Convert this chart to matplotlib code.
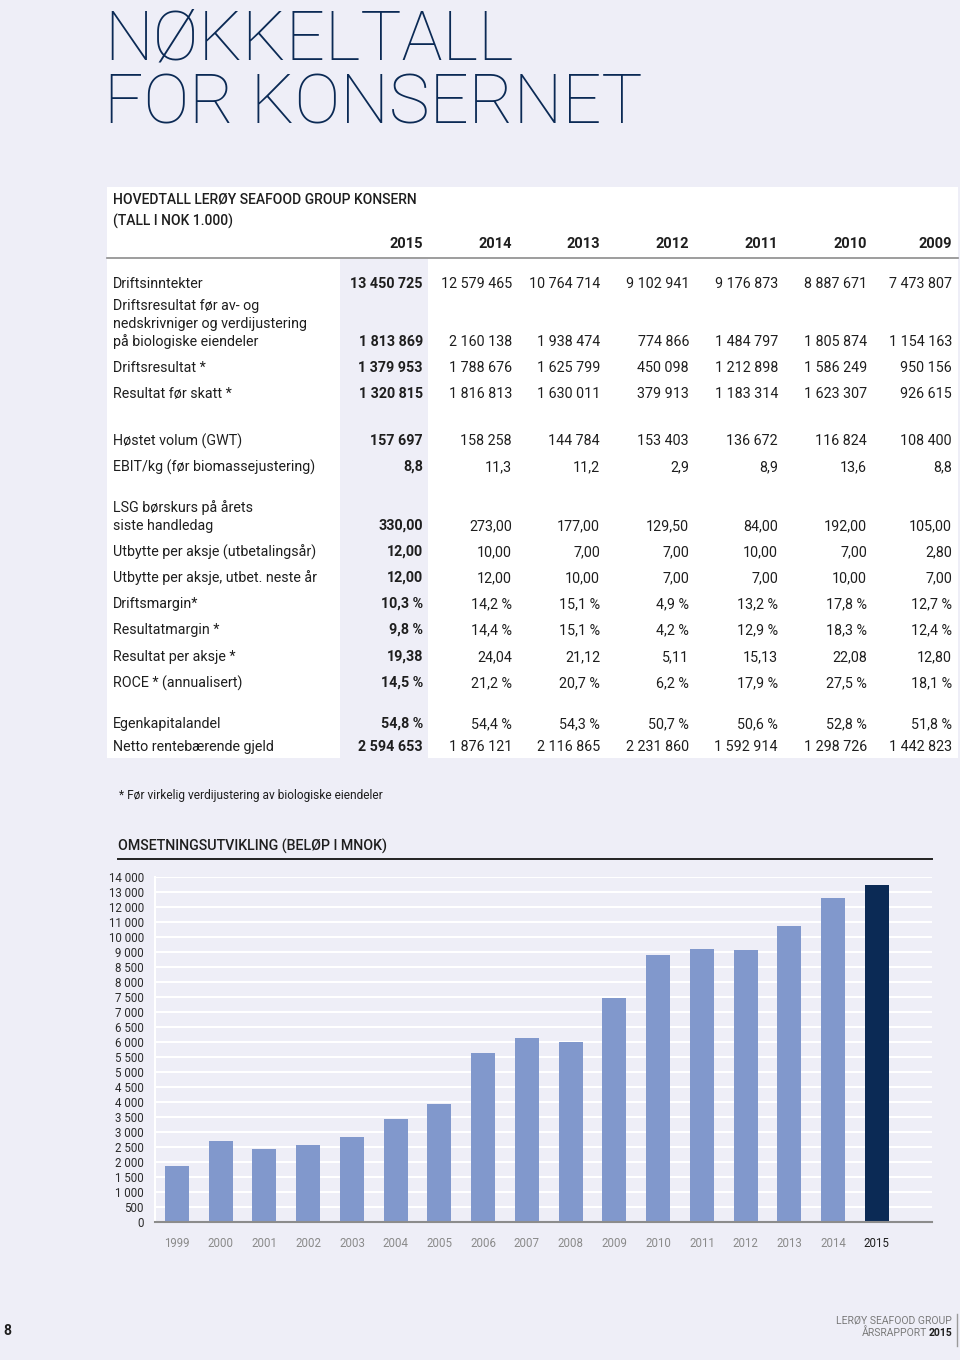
import matplotlib
matplotlib.use("Agg")
import matplotlib.pyplot as plt
import numpy as np

# Farger og fonter
BG = "#EEEEF7"
NAVY = "#0B2A55"
BAR = "#8198CC"
TXT = "#1E1E1E"
FONT = ["Roboto", "DejaVu Sans"]
plt.rcParams["font.family"] = FONT

# Tabelldata (tall i NOK 1.000)
years = ["2015", "2014", "2013", "2012", "2011", "2010", "2009"]
driftsinntekter = ["13 450 725", "12 579 465", "10 764 714", "9 102 941", "9 176 873", "8 887 671", "7 473 807"]
ebitda = ["1 813 869", "2 160 138", "1 938 474", "774 866", "1 484 797", "1 805 874", "1 154 163"]
driftsresultat = ["1 379 953", "1 788 676", "1 625 799", "450 098", "1 212 898", "1 586 249", "950 156"]
resultat_for_skatt = ["1 320 815", "1 816 813", "1 630 011", "379 913", "1 183 314", "1 623 307", "926 615"]
hostet_volum = ["157 697", "158 258", "144 784", "153 403", "136 672", "116 824", "108 400"]
ebit_kg = ["8,8", "11,3", "11,2", "2,9", "8,9", "13,6", "8,8"]
borskurs = ["330,00", "273,00", "177,00", "129,50", "84,00", "192,00", "105,00"]
utbytte_utbet = ["12,00", "10,00", "7,00", "7,00", "10,00", "7,00", "2,80"]
utbytte_neste = ["12,00", "12,00", "10,00", "7,00", "7,00", "10,00", "7,00"]
driftsmargin = ["10,3 %", "14,2 %", "15,1 %", "4,9 %", "13,2 %", "17,8 %", "12,7 %"]
resultatmargin = ["9,8 %", "14,4 %", "15,1 %", "4,2 %", "12,9 %", "18,3 %", "12,4 %"]
resultat_per_aksje = ["19,38", "24,04", "21,12", "5,11", "15,13", "22,08", "12,80"]
roce = ["14,5 %", "21,2 %", "20,7 %", "6,2 %", "17,9 %", "27,5 %", "18,1 %"]
egenkapitalandel = ["54,8 %", "54,4 %", "54,3 %", "50,7 %", "50,6 %", "52,8 %", "51,8 %"]
netto_gjeld = ["2 594 653", "1 876 121", "2 116 865", "2 231 860", "1 592 914", "1 298 726", "1 442 823"]

# Omsetning (MNOK)
rev_years = [str(y) for y in range(1999, 2016)]
revenue = [1860, 2690, 2450, 2580, 2820, 3450, 3950, 5620, 6150, 5990,
           7474, 8888, 9177, 9103, 10765, 12579, 13451]
ytick_values = list(range(0, 9001, 500)) + [10000, 11000, 12000, 13000, 14000]

# (etikett-linjer, verdier, y-posisjon for siste linje)
rows = [
    (["Driftsinntekter"], driftsinntekter, 284),
    (["Driftsresultat før av- og", "nedskrivniger og verdijustering", "på biologiske eiendeler"], ebitda, 342),
    (["Driftsresultat *"], driftsresultat, 368),
    (["Resultat før skatt *"], resultat_for_skatt, 394),
    (["Høstet volum (GWT)"], hostet_volum, 441),
    (["EBIT/kg (før biomassejustering)"], ebit_kg, 467),
    (["LSG børskurs på årets", "siste handledag"], borskurs, 526),
    (["Utbytte per aksje (utbetalingsår)"], utbytte_utbet, 552),
    (["Utbytte per aksje, utbet. neste år"], utbytte_neste, 578),
    (["Driftsmargin*"], driftsmargin, 604),
    (["Resultatmargin *"], resultatmargin, 630),
    (["Resultat per aksje *"], resultat_per_aksje, 657),
    (["ROCE * (annualisert)"], roce, 683),
    (["Egenkapitalandel"], egenkapitalandel, 724),
    (["Netto rentebærende gjeld"], netto_gjeld, 747),
]
col_right = [423, 512, 600, 689, 778, 867, 952]

fig = plt.figure(figsize=(9.6, 13.6), dpi=100, facecolor=BG)

# Side-akse i pikselkoordinater
page = fig.add_axes([0, 0, 1, 1])
page.set_xlim(0, 960)
page.set_ylim(1360, 0)
page.axis("off")
page.set_facecolor(BG)

# Tittel (to linjer i én tekst, grunnlinje for siste linje)
page.text(104, 124, "NØKKELTALL\nFOR KONSERNET", fontsize=49.5, fontweight="light", color=NAVY,
          va="baseline", ha="left", linespacing=0.99)

# Hvit tabellflate og uthevet 2015-kolonne
page.add_patch(plt.Rectangle((107, 187), 851, 571, facecolor="white", edgecolor="none"))
page.add_patch(plt.Rectangle((340, 259), 88, 499, facecolor=BG, edgecolor="none"))

page.text(113, 200, "HOVEDTALL LERØY SEAFOOD GROUP KONSERN", fontsize=10, fontweight="medium",
          color=TXT, va="center")
page.text(113, 221, "(TALL I NOK 1.000)", fontsize=10, fontweight="medium", color=TXT, va="center")
for yr, xr in zip(years, col_right):
    page.text(xr, 244, yr, fontsize=10.5, fontweight="bold", color=TXT, ha="right", va="center")
page.plot([107, 958], [258, 258], color="#8C8C8C", lw=1.2)

for labels, vals, y in rows:
    n = len(labels)
    for i, lab in enumerate(labels):
        page.text(113, y - (n - 1 - i) * 18, lab, fontsize=10.3, color=TXT, va="center")
    for j, (v, xr) in enumerate(zip(vals, col_right)):
        page.text(xr, y, v, fontsize=10.3, color=TXT, ha="right", va="center",
                  fontweight="bold" if j == 0 else "normal")

page.text(119, 795, "* Før virkelig verdijustering av biologiske eiendeler", fontsize=8.6,
          color=TXT, va="center")

page.text(118, 846, "OMSETNINGSUTVIKLING (BELØP I MNOK)", fontsize=10.3, fontweight="medium",
          color=TXT, va="center")
page.plot([118, 932], [859, 859], color="#222222", lw=1.4)

# Bunntekst
page.text(3, 1331, "8", fontsize=10, fontweight="bold", color=TXT, va="center")
page.text(952, 1321, "LERØY SEAFOOD GROUP", fontsize=7.5, color="#7A7A7A", ha="right", va="center")
page.text(927, 1333, "ÅRSRAPPORT", fontsize=7.5, color="#7A7A7A", ha="right", va="center")
page.text(952, 1333, "2015", fontsize=7.5, color=TXT, fontweight="bold", ha="right", va="center")
page.plot([957, 957], [1314, 1346], color="#9A9A9A", lw=1)


# Stolpediagram med brutt skala (500-trinn opp til 9 000, deretter 1 000)
def fwd(v):
    v = np.asarray(v, dtype=float)
    return np.where(v <= 9000, v / 500.0, 18 + (v - 9000) / 1000.0)


def inv(u):
    u = np.asarray(u, dtype=float)
    return np.where(u <= 18, u * 500.0, 9000 + (u - 18) * 1000.0)


ax = fig.add_axes([155 / 960, 1 - 1222 / 1360, 777 / 960, 345 / 1360])
ax.set_facecolor(BG)
ax.set_yscale("function", functions=(fwd, inv))
x = np.arange(len(rev_years))
colors = [BAR] * (len(rev_years) - 1) + [NAVY]
ax.bar(x, revenue, width=0.55, color=colors, zorder=3)
ax.set_ylim(0, 14000)
ax.set_xlim(-0.5, 17.26)
ax.set_yticks(ytick_values)
ax.set_yticklabels([f"{v:,}".replace(",", " ") for v in ytick_values], fontsize=8.3, color="#2A2A2A")
ax.yaxis.set_minor_locator(matplotlib.ticker.NullLocator())
ax.set_xticks(x)
ax.set_xticklabels(rev_years, fontsize=8.3, color="#8A8A8A")
ax.get_xticklabels()[-1].set_color(TXT)
ax.tick_params(axis="x", length=0, pad=11)
ax.tick_params(axis="y", length=0, pad=8)
ax.grid(axis="y", color="white", lw=1.5, zorder=0)
for s in ["top", "right"]:
    ax.spines[s].set_visible(False)
ax.spines["left"].set_color("white")
ax.spines["left"].set_linewidth(1.5)
ax.spines["bottom"].set_color("#8C8C8C")
ax.spines["bottom"].set_linewidth(1.5)
ax.spines["bottom"].set_zorder(4)

fig.savefig("out.png", dpi=100, facecolor=BG)
